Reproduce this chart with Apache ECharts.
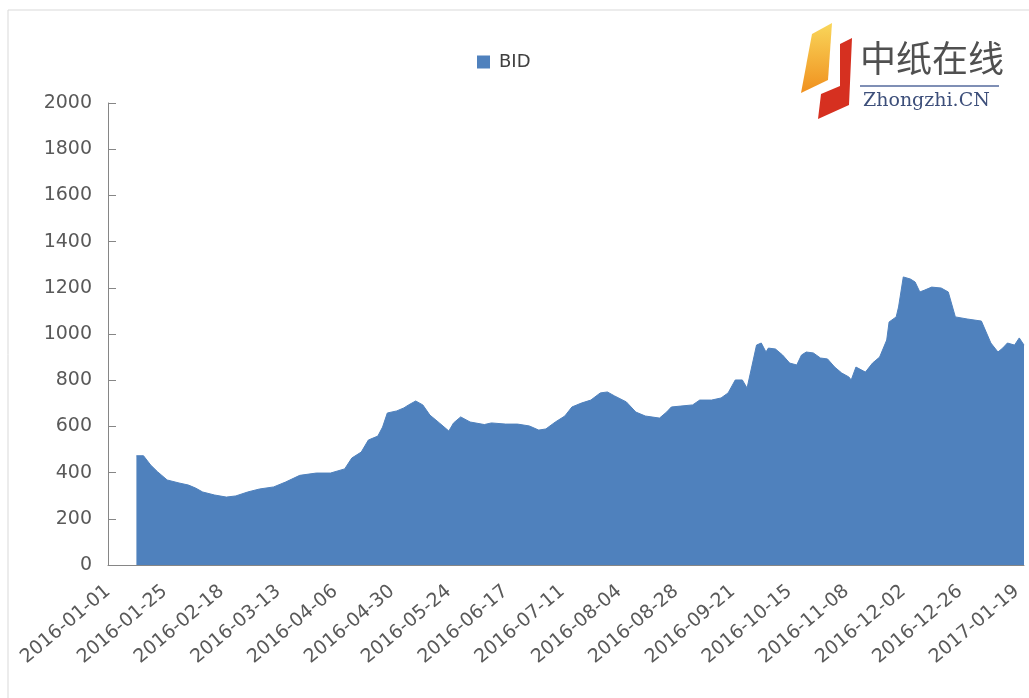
<!DOCTYPE html>
<html>
<head>
<meta charset="utf-8">
<script src="https://cdn.jsdelivr.net/npm/echarts@6/dist/echarts.min.js"></script>
<style>
html,body{margin:0;padding:0;background:#fff;}
#chart{width:1029px;height:698px;}
</style>
</head>
<body>
<div id="chart"></div>
<script>
// ---- data ----
const startDate = '2016-01-01';
const dayCount = 388; // 2016-01-01 .. 2017-01-22
const seriesName = 'BID';
const bidDates = [
  '2016-01-13','2016-01-16','2016-01-19','2016-01-22','2016-01-26','2016-01-31','2016-02-04','2016-02-07',
  '2016-02-10','2016-02-15','2016-02-20','2016-02-24','2016-02-29','2016-03-05','2016-03-11','2016-03-16',
  '2016-03-22','2016-03-29','2016-04-04','2016-04-10','2016-04-13','2016-04-17','2016-04-20','2016-04-24',
  '2016-04-26','2016-04-28','2016-05-02','2016-05-05','2016-05-07','2016-05-10','2016-05-13','2016-05-16',
  '2016-05-20','2016-05-24','2016-05-26','2016-05-29','2016-06-02','2016-06-08','2016-06-11','2016-06-17',
  '2016-06-22','2016-06-27','2016-07-01','2016-07-04','2016-07-08','2016-07-12','2016-07-15','2016-07-19',
  '2016-07-23','2016-07-27','2016-07-30','2016-08-02','2016-08-07','2016-08-11','2016-08-15','2016-08-21',
  '2016-08-24','2016-08-26','2016-08-30','2016-09-04','2016-09-07','2016-09-12','2016-09-16','2016-09-19',
  '2016-09-22','2016-09-25','2016-09-27','2016-10-01','2016-10-03','2016-10-05','2016-10-06','2016-10-09',
  '2016-10-12','2016-10-15','2016-10-18','2016-10-20','2016-10-22','2016-10-25','2016-10-28','2016-10-31',
  '2016-11-03','2016-11-06','2016-11-09','2016-11-10','2016-11-12','2016-11-16','2016-11-19','2016-11-22',
  '2016-11-25','2016-11-26','2016-11-29','2016-11-30','2016-12-02','2016-12-05','2016-12-07','2016-12-09',
  '2016-12-11','2016-12-14','2016-12-18','2016-12-21','2016-12-24','2016-12-29','2017-01-04','2017-01-08',
  '2017-01-11','2017-01-13','2017-01-15','2017-01-18','2017-01-20','2017-01-22'
];
const bidValues = [
  473,473,433,403,368,355,346,333,
  316,303,294,299,316,329,338,359,
  388,398,398,416,463,489,541,558,
  597,658,667,680,693,710,693,649,
  615,580,615,641,619,608,615,610,
  610,602,584,589,619,645,684,701,
  714,745,749,732,706,662,645,636,
  662,684,688,693,714,714,723,745,
  801,801,766,952,961,922,939,935,
  909,874,866,909,922,918,896,892,
  857,831,814,801,857,835,874,900,
  974,1052,1074,1117,1247,1238,1225,1182,
  1190,1203,1199,1182,1074,1065,1056,961,
  922,939,961,952,983,952
];
const yMin = 0, yMax = 2000, yStep = 200;

// ---- categories: every day of the axis ----
const categories = [];
(function () {
  const p = startDate.split('-').map(Number);
  for (let i = 0; i < dayCount; i++) {
    const d = new Date(Date.UTC(p[0], p[1] - 1, p[2] + i));
    const mm = String(d.getUTCMonth() + 1).padStart(2, '0');
    const dd = String(d.getUTCDate()).padStart(2, '0');
    categories.push(d.getUTCFullYear() + '-' + mm + '-' + dd);
  }
})();

const chart = echarts.init(document.getElementById('chart'));
const labelFont = 'DejaVu Sans';
chart.setOption({
  animation: false,
  backgroundColor: '#ffffff',
  legend: {
    data: [seriesName],
    left: 477,
    top: 53,
    padding: 0,
    icon: 'rect',
    itemWidth: 13,
    itemHeight: 13,
    itemGap: 6,
    textStyle: { fontFamily: labelFont, fontSize: 18, color: '#404040', padding: [0, 0, 0, 4] }
  },
  grid: { left: 108, right: 5, top: 103, bottom: 133 },
  xAxis: {
    type: 'category',
    data: categories,
    boundaryGap: false,
    axisLine: { lineStyle: { color: '#868686', width: 1 } },
    axisTick: { show: false },
    axisLabel: {
      interval: 23,
      rotate: 40,
      margin: 24,
      fontFamily: labelFont,
      fontSize: 19,
      color: '#595959'
    },
    splitLine: { show: false }
  },
  yAxis: {
    type: 'value',
    min: yMin,
    max: yMax,
    interval: yStep,
    axisLine: { show: true, lineStyle: { color: '#868686', width: 1 } },
    axisTick: { show: true, inside: true, length: 8, lineStyle: { color: '#868686' } },
    axisLabel: { margin: 16, fontFamily: labelFont, fontSize: 19, color: '#595959',
      formatter: function (v) { return String(v); } },
    splitLine: { show: false }
  },
  series: [{
    name: seriesName,
    type: 'line',
    data: bidDates.map((d, i) => [d, bidValues[i]]),
    symbol: 'none',
    lineStyle: { color: '#4F81BD', width: 1 },
    itemStyle: { color: '#4F81BD' },
    areaStyle: { color: '#4F81BD', opacity: 1 }
  }],
  graphic: [
    { type: 'rect', shape: { x: 8, y: 10, width: 1200, height: 900 },
      style: { fill: 'none', stroke: '#d9d9d9', lineWidth: 1 }, silent: true, z: -1 },
    { type: 'polygon', shape: { points: [[812,34],[832,23],[828,80],[801,93]] },
      style: { fill: new echarts.graphic.LinearGradient(0, 0, 0, 1, [
        { offset: 0, color: '#f9d65a' }, { offset: 1, color: '#f0901e' }]) } },
    { type: 'polygon', shape: { points: [[840,44],[852,38],[849,105],[818,119],[821,94],[840,86]] },
      style: { fill: '#d63020' } },
    { type: 'text', x: 860, y: 58,
      style: { text: '中纸在线', font: '36px "Noto Sans CJK SC"', fill: '#505050', textVerticalAlign: 'middle' } },
    { type: 'line', shape: { x1: 860, y1: 86, x2: 999, y2: 86 },
      style: { stroke: '#7f8fb5', lineWidth: 2 } },
    { type: 'text', x: 863, y: 101,
      style: { text: 'Zhongzhi.CN', font: '19px "DejaVu Serif"', fill: '#3d4f7a', textVerticalAlign: 'middle' } }
  ]
});
</script>
</body>
</html>
